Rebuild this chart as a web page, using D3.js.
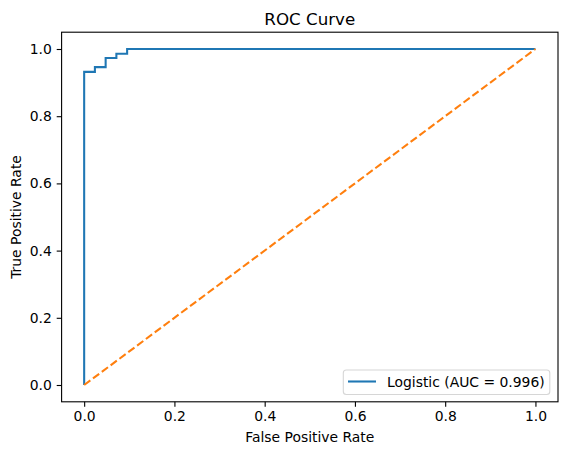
<!DOCTYPE html>
<html>
<head>
<meta charset="utf-8">
<script src="https://cdn.jsdelivr.net/npm/d3@7"></script>
<style>
  body { margin: 0; background: #fff; }
  svg { display: block; font-family: "DejaVu Sans", sans-serif; }
</style>
</head>
<body>
<svg width="567" height="455"></svg>
<script>
// ROC points
var fpr = [0, 0, 0.0238, 0.0238, 0.0476, 0.0476, 0.0714, 0.0714, 0.0952, 0.0952, 1.0];
var tpr = [0, 0.932, 0.932, 0.946, 0.946, 0.973, 0.973, 0.986, 0.986, 1.0, 1.0];
var diagX = [0, 1];
var diagY = [0, 1];
var ticks = [0, 0.2, 0.4, 0.6, 0.8, 1.0];
var legendLabel = 'Logistic (AUC = 0.996)';

var svg = d3.select('svg');
var m = { left: 61.6, right: 558, top: 32.2, bottom: 401.8 };

var x = d3.scaleLinear().domain([-0.05, 1.05]).range([m.left, m.right]);
var y = d3.scaleLinear().domain([-0.05, 1.05]).range([m.bottom, m.top]);

var line = d3.line()
    .x(function(d) { return x(d[0]); })
    .y(function(d) { return y(d[1]); });

// clip to axes area
svg.append('clipPath').attr('id', 'clip')
    .append('rect')
    .attr('x', m.left).attr('y', m.top)
    .attr('width', m.right - m.left).attr('height', m.bottom - m.top);

var plot = svg.append('g').attr('clip-path', 'url(#clip)');

plot.append('path')
    .datum(d3.zip(fpr, tpr))
    .attr('d', line)
    .attr('fill', 'none')
    .attr('stroke', '#1f77b4')
    .attr('stroke-width', 2.08)
    .attr('stroke-linejoin', 'miter');

plot.append('path')
    .datum(d3.zip(diagX, diagY))
    .attr('d', line)
    .attr('fill', 'none')
    .attr('stroke', '#ff7f0e')
    .attr('stroke-width', 2.08)
    .attr('stroke-dasharray', '7.7,3.3');

// axes
var fmt = d3.format('.1f');
var xAxis = svg.append('g')
    .attr('transform', 'translate(0,' + m.bottom + ')')
    .call(d3.axisBottom(x).tickValues(ticks).tickFormat(fmt).tickSize(4.9).tickPadding(4.9));
var yAxis = svg.append('g')
    .attr('transform', 'translate(' + m.left + ',0)')
    .call(d3.axisLeft(y).tickValues(ticks).tickFormat(fmt).tickSize(4.9).tickPadding(4.9));

[xAxis, yAxis].forEach(function(a) {
    a.select('.domain').remove();
    a.selectAll('line').attr('stroke', '#000').attr('stroke-width', 1.1);
    a.selectAll('text')
        .attr('fill', '#000')
        .style('font-family', '"DejaVu Sans", sans-serif')
        .style('font-size', '13.9px');
});

// frame
svg.append('rect')
    .attr('x', m.left).attr('y', m.top)
    .attr('width', m.right - m.left).attr('height', m.bottom - m.top)
    .attr('fill', 'none')
    .attr('stroke', '#000')
    .attr('stroke-width', 1.1);

// title and axis labels
svg.append('text')
    .attr('x', (m.left + m.right) / 2).attr('y', 24.5)
    .attr('text-anchor', 'middle')
    .style('font-size', '16.7px')
    .text('ROC Curve');

svg.append('text')
    .attr('x', (m.left + m.right) / 2).attr('y', 441.5)
    .attr('text-anchor', 'middle')
    .style('font-size', '13.9px')
    .text('False Positive Rate');

svg.append('text')
    .attr('transform', 'translate(20.5,' + (m.top + m.bottom) / 2 + ') rotate(-90)')
    .attr('text-anchor', 'middle')
    .style('font-size', '13.9px')
    .text('True Positive Rate');

// legend
var lg = svg.append('g');
lg.append('rect')
    .attr('x', 343.3).attr('y', 370)
    .attr('width', 206.5).attr('height', 24.5)
    .attr('rx', 3)
    .attr('fill', '#fff').attr('fill-opacity', 0.8)
    .attr('stroke', '#d6d6d6').attr('stroke-width', 1.1);
lg.append('line')
    .attr('x1', 348).attr('x2', 376)
    .attr('y1', 381.5).attr('y2', 381.5)
    .attr('stroke', '#1f77b4').attr('stroke-width', 2.08);
lg.append('text')
    .attr('x', 387).attr('y', 386.5)
    .style('font-size', '13.9px')
    .text(legendLabel);
</script>
</body>
</html>
